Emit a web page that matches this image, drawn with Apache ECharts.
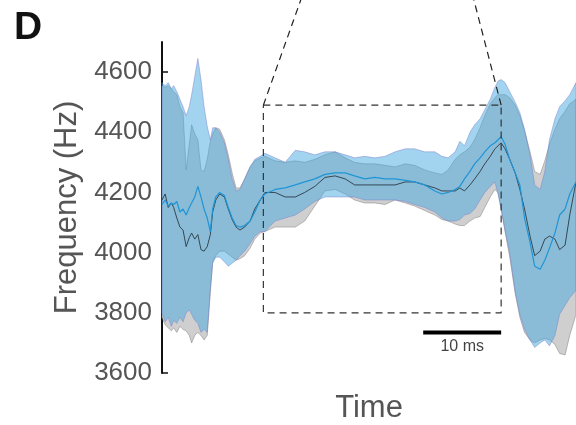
<!DOCTYPE html>
<html>
<head>
<meta charset="utf-8">
<title>Frequency D</title>
<script src="https://cdn.jsdelivr.net/npm/echarts@6/dist/echarts.min.js"></script>
<style>
  html, body { margin: 0; padding: 0; background: #fff; }
  #chart { width: 576px; height: 425px; }
</style>
</head>
<body>
<div id="chart"></div>
<script>
// time in ms, frequency in Hz
var time = [0,0.4,0.8,1.2,1.5,1.9,2.3,2.7,3.1,3.5,
  3.8,4.2,4.6,5.0,5.4,5.8,6.2,6.5,6.9,7.4,
  8.0,8.5,9.0,9.5,10.0,10.6,11.3,11.9,12.6,13.2,
  14.5,15.8,17.1,18.3,19.6,20.9,22.2,23.5,24.7,26.0,
  27.3,28.6,29.9,31.2,32.4,33.7,35.0,35.9,36.7,37.6,
  38.2,38.8,39.5,40.1,40.8,41.4,42.1,42.7,43.1,43.5,
  44.0,44.6,45.3,45.9,46.5,47.2,47.8,48.5,49.1,49.7,
  50.4,51.0,51.7,52.3,53.1];

var blueUpper = [4565,4555,4565,4545,4555,4535,4510,4485,4455,4485,
  4525,4585,4645,4575,4485,4420,4375,4415,4415,4400,
  4365,4310,4245,4205,4210,4245,4285,4310,4320,4330,
  4315,4300,4340,4335,4325,4335,4335,4325,4315,4320,
  4315,4320,4335,4345,4345,4335,4335,4320,4315,4335,
  4370,4355,4400,4425,4445,4475,4510,4550,4570,4575,
  4565,4535,4500,4465,4410,4325,4225,4210,4270,4375,
  4445,4485,4505,4525,4565];
var blueLower = [3800,3770,3785,3755,3775,3765,3785,3770,3800,3810,
  3795,3775,3765,3735,3745,3735,3875,3965,3985,3985,
  3970,3955,3965,3975,3990,4005,4030,4055,4070,4070,
  4105,4115,4125,4145,4170,4185,4185,4185,4185,4175,
  4175,4175,4175,4170,4160,4150,4135,4115,4105,4105,
  4110,4125,4130,4145,4175,4200,4220,4235,4195,4145,
  4075,4000,3870,3795,3745,3710,3685,3700,3710,3690,
  3725,3795,3825,3850,3875];
var blueMean = [4160,4175,4155,4165,4160,4170,4135,4145,4125,4150,
  4165,4185,4220,4185,4145,4115,4070,4145,4185,4200,
  4190,4150,4115,4090,4085,4090,4105,4135,4175,4195,
  4210,4215,4225,4235,4245,4260,4265,4265,4255,4245,
  4250,4245,4245,4240,4235,4225,4205,4195,4200,4210,
  4220,4245,4270,4295,4315,4335,4355,4365,4375,4385,
  4360,4310,4265,4225,4115,4035,3955,3945,3975,4015,
  4065,4125,4145,4195,4235];

var grayUpper = [4555,4550,4555,4545,4535,4525,4485,4465,4275,4360,
  4425,4395,4375,4275,4270,4310,4370,4395,4415,4410,
  4375,4325,4265,4215,4215,4245,4285,4305,4315,4320,
  4305,4300,4305,4300,4310,4325,4335,4315,4300,4295,
  4295,4290,4285,4295,4290,4275,4265,4260,4275,4310,
  4325,4335,4350,4375,4415,4455,4495,4515,4525,4525,
  4525,4515,4490,4455,4405,4335,4270,4260,4305,4360,
  4410,4445,4470,4495,4510];
var grayLower = [3785,3760,3750,3740,3750,3735,3755,3745,3740,3725,
  3700,3725,3735,3725,3710,3725,3870,3970,3990,4005,
  4005,3995,3985,3975,3980,3990,4015,4045,4065,4070,
  4085,4085,4085,4105,4155,4205,4210,4195,4175,4165,
  4165,4160,4175,4165,4155,4140,4125,4110,4105,4095,
  4090,4090,4105,4115,4120,4150,4185,4210,4200,4145,
  4070,3985,3865,3785,3735,3710,3700,3710,3715,3710,
  3695,3665,3660,3725,3795];
var grayMean = [4175,4195,4150,4165,4150,4115,4085,4075,4020,4050,
  4065,4045,4060,4010,4005,4020,4060,4135,4175,4195,
  4185,4145,4110,4085,4075,4085,4105,4145,4175,4200,
  4200,4185,4185,4200,4220,4250,4255,4245,4225,4225,
  4225,4225,4225,4235,4235,4225,4215,4205,4205,4205,
  4215,4205,4225,4245,4270,4295,4320,4345,4355,4365,
  4345,4310,4265,4210,4145,4055,3990,4005,4045,4055,
  4045,4010,4025,4125,4235];

var yTicks = [3600, 3800, 4000, 4200, 4400, 4600];

// zoom window and scale bar (data units)
var boxT = [13.0, 43.5];
var boxF = [3800, 4490];
var guideLeft = [[13.0, 4490], [17.8, 4840]];
var guideRight = [[43.5, 4490], [40.0, 4840]];
var scaleBar = [[33.5, 3735], [43.5, 3735]];
var scaleLabel = [[38.5, 3688]];

function pairs(xs, ys) {
  return xs.map(function (x, i) { return [x, ys[i]]; });
}

function band(upper, lower, fill, edge) {
  return {
    type: 'custom',
    silent: true,
    data: [[time[0], upper[0]]],
    renderItem: function (params, api) {
      var top = time.map(function (t, i) { return api.coord([t, upper[i]]); });
      var bot = time.map(function (t, i) { return api.coord([t, lower[i]]); }).reverse();
      return {
        type: 'polygon',
        shape: { points: top.concat(bot) },
        style: { fill: fill, stroke: edge, lineWidth: 0.8 }
      };
    }
  };
}

function plain(data, color, width, dash, noClip) {
  return {
    type: 'line',
    data: data,
    showSymbol: false,
    silent: true,
    clip: !noClip,
    lineStyle: { color: color, width: width, type: dash ? [7, 5] : 'solid' }
  };
}

var font = '"Liberation Sans", Arial, sans-serif';
var chart = echarts.init(document.getElementById('chart'));

chart.setOption({
  animation: false,
  title: {
    text: 'D', left: 9, top: 4,
    textStyle: { fontSize: 39, fontWeight: 'bold', color: '#111', fontFamily: font }
  },
  grid: { left: 162, right: 0, top: 42, bottom: 52, outerBoundsMode: 'none' },
  xAxis: {
    type: 'value', min: 0, max: 53.1,
    name: 'Time', nameLocation: 'middle', nameGap: 20,
    nameTextStyle: { fontSize: 31, color: '#555', fontFamily: font },
    axisLine: { show: false }, axisTick: { show: false },
    axisLabel: { show: false }, splitLine: { show: false }
  },
  yAxis: {
    type: 'value', min: 3600, max: 4700,
    name: 'Frequency (Hz)', nameLocation: 'middle', nameGap: 73,
    nameTextStyle: { fontSize: 31, color: '#555', fontFamily: font },
    axisLine: { show: true, lineStyle: { color: '#111', width: 2 } },
    axisTick: { show: true, inside: true, length: 6, customValues: yTicks, lineStyle: { color: '#111', width: 1.5 } },
    axisLabel: {
      margin: 10, fontSize: 26, color: '#555', fontFamily: font, customValues: yTicks,
      formatter: function (v) { return String(v); }
    },
    splitLine: { show: false }
  },
  series: [
    band(grayUpper, grayLower, '#cfcfcf', 'rgba(120,120,120,0.6)'),
    band(blueUpper, blueLower, 'rgba(70,170,225,0.5)', 'rgba(120,120,200,0.55)'),
    plain(pairs(time, grayMean), '#2b3a44', 0.9),
    plain(pairs(time, blueMean), '#1f95d6', 1.2),
    plain([[boxT[0], boxF[1]], [boxT[1], boxF[1]], [boxT[1], boxF[0]], [boxT[0], boxF[0]], [boxT[0], boxF[1]]], '#333', 1.2, true),
    plain(guideLeft, '#222', 1.2, true, true),
    plain(guideRight, '#222', 1.2, true, true),
    plain(scaleBar, '#000', 4),
    {
      type: 'scatter', data: scaleLabel, symbolSize: 0, silent: true,
      label: { show: true, position: 'inside', formatter: '10 ms', fontSize: 16, color: '#111', fontFamily: font }
    }
  ]
});
</script>
</body>
</html>
